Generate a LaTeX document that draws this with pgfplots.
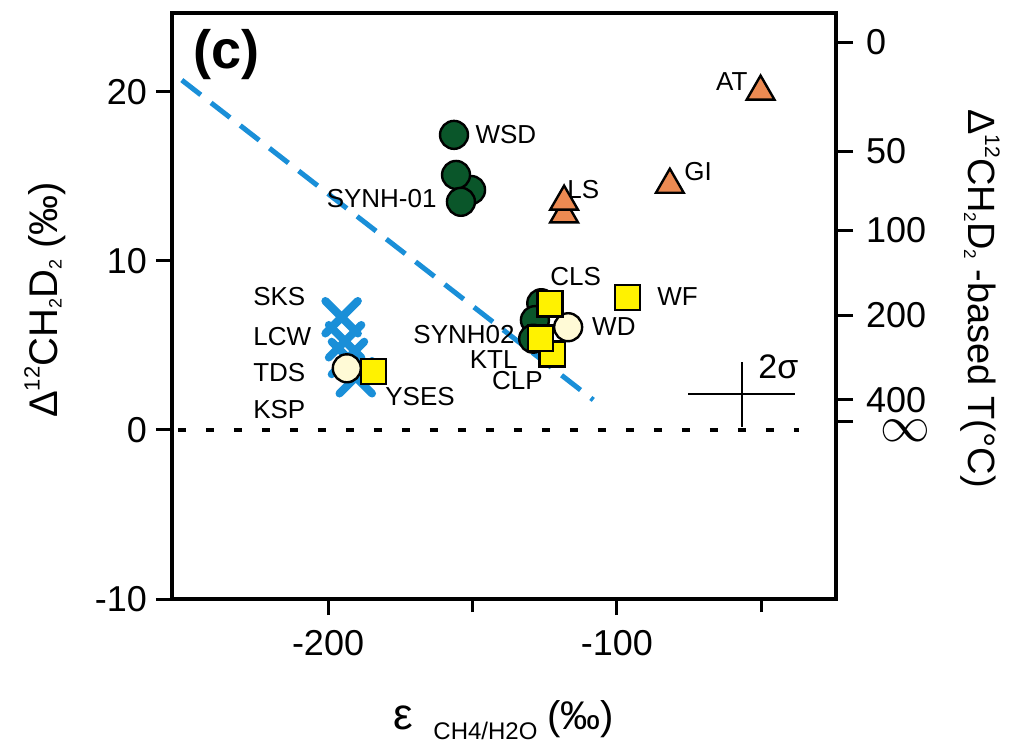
\documentclass[border=0pt]{standalone}
\usepackage{fontspec}
\setmainfont{Liberation Sans}
\usepackage{pgfplots}
\pgfplotsset{compat=1.18}
\definecolor{dgreen}{RGB}{10,86,42}
\definecolor{cream}{RGB}{255,250,214}
\definecolor{yel}{RGB}{255,242,0}
\definecolor{orng}{RGB}{236,138,82}
\definecolor{lblue}{RGB}{26,143,216}
\newcommand{\infsym}{\ensuremath{\infty}}
\begin{document}
\begin{tikzpicture}[lab/.style={font=\fontsize{13}{13}\selectfont, inner sep=0pt}]
\begin{axis}[
  at={(86pt,76.5pt)}, anchor=south west,
  width=332pt, height=293pt, scale only axis,
  xmin=-254, xmax=-24.2, ymin=-10, ymax=24.67,
  axis line style={line width=1.8pt},
  xtick={-200,-100}, xticklabels={-200,-100},
  minor xtick={-150,-50},
  ytick={-10,0,10,20}, yticklabels={-10,0,10,20},
  xtick pos=bottom, ytick pos=left,
  tick align=outside,
  major tick length=8pt, minor tick length=6.5pt,
  every tick/.style={black, line width=1.5pt},
  tick label style={font=\fontsize{18}{18}\selectfont},
  xticklabel style={yshift=-4pt},
  yticklabel style={xshift=-1pt},
  clip=false,
]
% dotted zero line
\addplot[black, line width=2pt, dash pattern=on 4pt off 10pt] coordinates {(-252,0) (-37,0)};
% dashed blue line
\addplot[lblue, line width=2.5pt, dash pattern=on 12pt off 6.5pt] coordinates {(-250.6,20.7) (-108.2,1.78)};
% 2 sigma cross
\addplot[black, mark=none, forget plot, error bars/.cd, x dir=both, x explicit, y dir=both, y explicit, error mark=none, error bar style={line width=1pt, black}] coordinates {(-56.9,2.12) +- (18.5,1.92)};
% blue crosses
\addplot[only marks, mark=x, mark size=11.5pt, lblue, mark options={line width=4pt, line cap=round}] coordinates {(-195.3,6.67) (-194.1,5.25) (-193.1,4.26) (-190.4,3.12)};
% green circles
\addplot[only marks, mark=*, mark size=7pt, mark options={fill=dgreen, draw=black, line width=1.2pt}] coordinates {(-156.4,17.46) (-150.5,14.2) (-155.7,15.09) (-154,13.5) (-126.2,7.5) (-128.4,6.5) (-129,5.4)};
% cream circles
\addplot[only marks, mark=*, mark size=7pt, mark options={fill=cream, draw=black, line width=1.2pt}] coordinates {(-116.9,6.08) (-193.5,3.65)};
% yellow squares
\addplot[only marks, mark=square*, mark size=6.3pt, mark options={fill=yel, draw=black, line width=1.2pt}] coordinates {(-96.4,7.85) (-123.2,7.46) (-122.4,4.5) (-126.4,5.43) (-184.3,3.45)};
% orange triangles
\addplot[only marks, mark=triangle*, mark size=8pt, mark options={fill=orng, draw=black, line width=1.2pt}] coordinates {(-50.3,20.02) (-81.7,14.51) (-118.3,12.76) (-118.3,13.51)};
% labels
\node[lab, anchor=west] at (axis cs:-149.1,17.46) {WSD};
\node[lab, anchor=east] at (axis cs:-162.3,13.67) {SYNH-01};
\node[lab, anchor=east] at (axis cs:-54.7,20.6) {AT};
\node[lab, anchor=west] at (axis cs:-76.8,15.27) {GI};
\node[lab, anchor=west] at (axis cs:-117.3,14.2) {LS};
\node[lab, anchor=west] at (axis cs:-226,7.87) {SKS};
\node[lab, anchor=west] at (axis cs:-226,5.5) {LCW};
\node[lab, anchor=west] at (axis cs:-226,3.37) {TDS};
\node[lab, anchor=west] at (axis cs:-226,1.18) {KSP};
\node[lab, anchor=west] at (axis cs:-180.3,1.95) {YSES};
\node[lab, anchor=east] at (axis cs:-135.3,5.62) {SYNH02};
\node[lab, anchor=east] at (axis cs:-134.3,4.15) {KTL};
\node[lab, anchor=east] at (axis cs:-125.6,2.9) {CLP};
\node[lab, anchor=west] at (axis cs:-123.2,9.05) {CLS};
\node[lab, anchor=west] at (axis cs:-108.7,6.09) {WD};
\node[lab, anchor=west] at (axis cs:-86.2,7.87) {WF};
\node[anchor=west, inner sep=0pt, font=\fontsize{17}{17}\selectfont] at (axis cs:-51.2,3.73) {2σ};
\node[anchor=west, inner sep=0pt, font=\fontsize{27}{27}\selectfont\bfseries] at (axis cs:-246.7,22.19) {(c)};
\end{axis}
\begin{axis}[
  at={(86pt,76.5pt)}, anchor=south west,
  width=332pt, height=293pt, scale only axis,
  xmin=-254, xmax=-24.2, ymin=-10, ymax=24.67,
  axis x line=none, axis y line*=right,
  axis line style={line width=1.8pt, -},
  ytick={1.78,6.8,11.83,16.5,22.92},
  yticklabels={400,200,100,50,0},
  extra y ticks={0.53},
  extra y tick labels={\infsym},
  extra y tick style={yticklabel style={font=\fontsize{23}{23}\selectfont, inner sep=0pt, yshift=-5pt, xshift=10.5pt}},
  tick align=outside, major tick length=8.5pt,
  every tick/.style={black, line width=1.5pt},
  tick label style={font=\fontsize{18}{18}\selectfont},
  yticklabel style={xshift=3pt},
]
\addplot[draw=none] coordinates {(-100,0)};
\end{axis}
% axis labels
\node[rotate=90, inner sep=0pt, font=\fontsize{20}{20}\selectfont] at (22.5pt,226pt) {Δ\raisebox{9pt}{\fontsize{11}{11}\selectfont 12}CH\raisebox{-2pt}{\fontsize{9}{9}\selectfont 2}D\raisebox{-2pt}{\fontsize{9}{9}\selectfont 2} (‰)};
\node[rotate=-90, inner sep=0pt, font=\fontsize{19}{19}\selectfont] at (490pt,226.75pt) {Δ\raisebox{8.5pt}{\fontsize{10.5}{10.5}\selectfont 12}CH\raisebox{-2pt}{\fontsize{8.5}{8.5}\selectfont 2}D\raisebox{-2pt}{\fontsize{8.5}{8.5}\selectfont 2} -based T(°C)};
\node[inner sep=0pt] at (252pt,16pt) {{\fontsize{22}{22}\selectfont ε}\hspace{10pt}\raisebox{-5pt}{\fontsize{12}{12}\selectfont CH4/H2O}\hspace{5pt}{\fontsize{20}{20}\selectfont (‰)}};
\pgfresetboundingbox
\path[use as bounding box] (0,0) rectangle (509.5pt,376pt);
\end{tikzpicture}
\end{document}
